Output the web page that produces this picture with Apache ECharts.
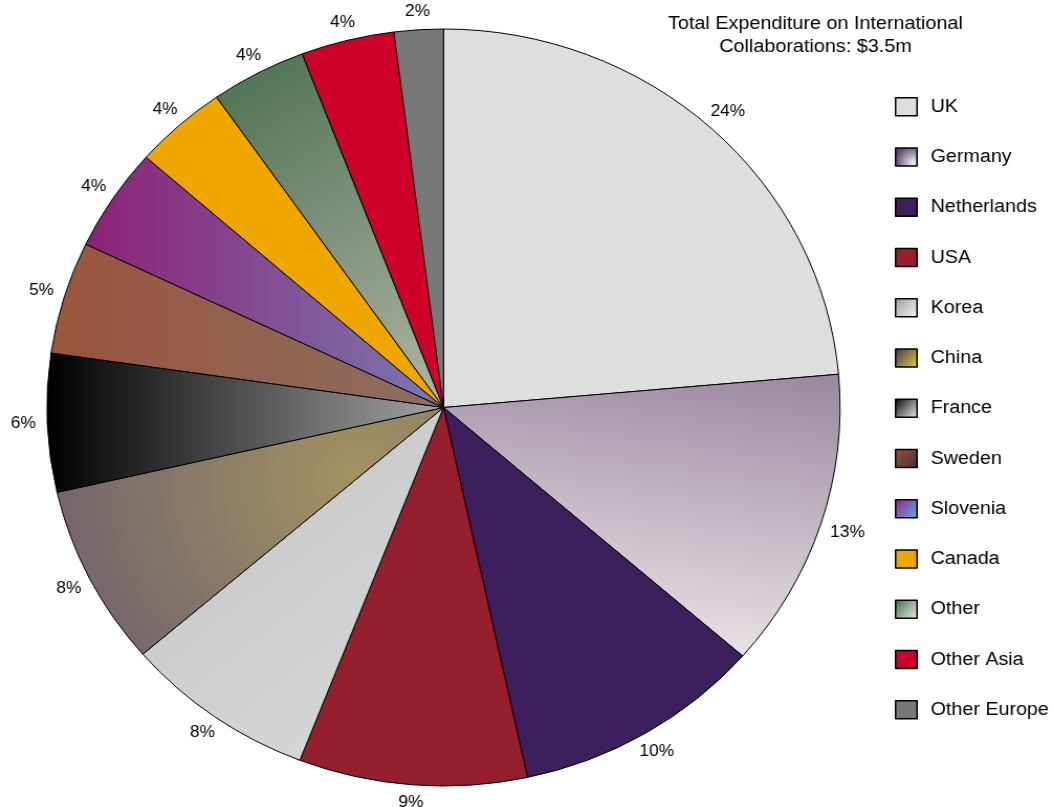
<!DOCTYPE html>
<html>
<head>
<meta charset="utf-8">
<script src="https://cdn.jsdelivr.net/npm/echarts@6/dist/echarts.min.js"></script>
<style>
  html, body { margin: 0; padding: 0; background: #ffffff; overflow: hidden; }
  /* the chart is laid out a little narrower and widened to the page, giving the oval pie */
  #chart { width: 1005px; height: 807px; transform: scaleX(1.04776); transform-origin: 0 0; }
</style>
</head>
<body>
<div id="chart"></div>
<script>
// Share of spend per partner (percent of total)
const categories = ['UK', 'Germany', 'Netherlands', 'USA', 'Korea', 'China', 'France',
                    'Sweden', 'Slovenia', 'Canada', 'Other', 'Other Asia', 'Other Europe'];
const shares = [23.6, 12.8, 10.2, 9.3, 7.8, 7.7, 5.9, 4.8, 4.4, 3.8, 3.9, 3.8, 2.0];
const titleLines = ['Total Expenditure on International', 'Collaborations: $3.5m'];

function lin(x, y, x2, y2, c0, c1) {
  return { type: 'linear', x: x, y: y, x2: x2, y2: y2,
           colorStops: [{ offset: 0, color: c0 }, { offset: 1, color: c1 }] };
}
function rad(x, y, r, c0, c1) {
  return { type: 'radial', x: x, y: y, r: r,
           colorStops: [{ offset: 0, color: c0 }, { offset: 1, color: c1 }] };
}

// slice fills
const sliceFills = [
  '#dedede',
  lin(1, 0, 0.89, 1, '#9a889e', '#e6dfe3'),
  '#3c1f5c',
  '#951f2d',
  lin(0, 0, 1, 1, '#c3c3c3', '#dadada'),
  rad(0.78, 0.3, 1.2, '#a49463', '#72646c'),
  lin(0, 0, 1, 0, '#000000', '#a4a4a4'),
  lin(0, 0, 1, 0, '#9b543e', '#8b6e60'),
  lin(0, 0, 1, 0, '#8d2176', '#7a78b2'),
  '#efa700',
  lin(0, 0, 1, 1, '#4a6f50', '#b2b6a6'),
  '#cc0029',
  '#787878'
];

// legend swatch fills
const legendFills = [
  '#dedede',
  rad(0.8, 0.8, 0.9, '#f2eef2', '#5c4672'),
  '#3c1f5c',
  '#951f2d',
  lin(0, 0, 1, 1, '#9a9a9a', '#f8f8f8'),
  lin(0, 0, 1, 1, '#3a2a58', '#e8d82c'),
  lin(0, 0, 1, 1, '#000000', '#f4f4f4'),
  lin(0, 0, 1, 1, '#a5503a', '#3c3232'),
  lin(0, 0, 1, 1, '#9a1c7e', '#5cb4ec'),
  '#efa700',
  lin(0, 0, 1, 1, '#3a6a46', '#f2f2e4'),
  '#cc0029',
  '#787878'
];

const FONT = '"Liberation Sans", Arial, sans-serif';
const LABEL_GAP = 11;
const LABEL_HALF_HEIGHT = 7;

const chart = echarts.init(document.getElementById('chart'), null, { renderer: 'canvas' });

chart.setOption({
  backgroundColor: '#ffffff',
  animation: false,
  title: {
    text: titleLines.join('\n'),
    left: 773.3,
    top: 7,
    textAlign: 'center',
    textStyle: { color: '#000', fontSize: 18.9, fontWeight: 'normal', fontFamily: FONT, lineHeight: 23 }
  },
  legend: {
    orient: 'vertical',
    left: 849,
    top: 92,
    itemWidth: 20.5,
    itemHeight: 18,
    itemGap: 30.75,
    icon: 'rect',
    selectedMode: false,
    itemStyle: { borderColor: '#000', borderWidth: 1.5 },
    textStyle: { color: '#000', fontSize: 18.8, fontFamily: FONT, padding: [0, 0, 0, 8] },
    data: categories.map((name, i) => ({ name: name, itemStyle: { color: legendFills[i] } }))
  },
  series: [{
    type: 'pie',
    center: [423.3, 407.5],
    radius: 378.5,
    startAngle: 90,
    clockwise: true,
    avoidLabelOverlap: false,
    silent: true,
    emphasis: { disabled: true, scale: false },
    itemStyle: { borderColor: '#000', borderWidth: 1 },
    label: {
      show: true,
      position: 'outside',
      color: '#000',
      fontSize: 16.5,
      fontFamily: FONT,
      formatter: p => Math.round(p.value) + '%'
    },
    labelLine: { show: true, length: 6, length2: 0, lineStyle: { opacity: 0 } },
    // place each percentage just past the rim along the slice's mid-angle,
    // keeping a steady gap between the rim and the near side of the text
    labelLayout: function (p) {
      const pts = p.labelLinePoints;
      if (!pts) { return {}; }
      let ux = pts[1][0] - pts[0][0];
      let uy = pts[1][1] - pts[0][1];
      const len = Math.sqrt(ux * ux + uy * uy) || 1;
      ux /= len; uy /= len;
      const hw = ux * p.labelRect.width / 2;
      const hh = uy * LABEL_HALF_HEIGHT;
      const reach = LABEL_GAP + Math.sqrt(hw * hw + hh * hh);
      return {
        x: pts[0][0] + ux * reach,
        y: pts[0][1] + uy * reach,
        align: 'center',
        verticalAlign: 'middle'
      };
    },
    data: categories.map((name, i) => ({
      name: name,
      value: shares[i],
      itemStyle: { color: sliceFills[i] }
    }))
  }]
});
</script>
</body>
</html>
